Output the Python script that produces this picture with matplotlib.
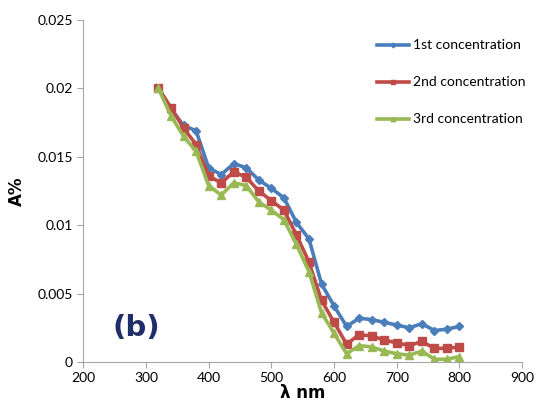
import matplotlib.pyplot as plt
import numpy as np

plt.rcParams["font.family"] = ["Lato", "DejaVu Sans"]

wavelength = [320, 340, 360, 380, 400, 420, 440, 460, 480, 500, 520, 540, 560,
              580, 600, 620, 640, 660, 680, 700, 720, 740, 760, 780, 800]
conc_1 = [0.0200, 0.0185, 0.0173, 0.0169, 0.0142, 0.0137, 0.0145, 0.0142, 0.0133,
          0.0127, 0.0120, 0.0102, 0.0090, 0.0057, 0.0041, 0.0026, 0.0032, 0.0031,
          0.0029, 0.0027, 0.0025, 0.0028, 0.0023, 0.0024, 0.0026]
conc_2 = [0.0200, 0.0186, 0.0171, 0.0159, 0.0136, 0.0131, 0.0139, 0.0135, 0.0125,
          0.0118, 0.0111, 0.0093, 0.0073, 0.0045, 0.0029, 0.0013, 0.0020, 0.0019,
          0.0016, 0.0014, 0.0012, 0.0015, 0.0010, 0.0010, 0.0011]
conc_3 = [0.0200, 0.0180, 0.0165, 0.0154, 0.0129, 0.0122, 0.0131, 0.0129, 0.0117,
          0.0111, 0.0104, 0.0086, 0.0066, 0.0036, 0.0021, 0.0006, 0.0012, 0.0011,
          0.0008, 0.0006, 0.0005, 0.0008, 0.0002, 0.0002, 0.0004]
labels = ["1st concentration", "2nd concentration", "3rd concentration"]
colors = ["#4a7ebb", "#be4b48", "#98b954"]
markers = ["D", "s", "^"]
msizes = [4, 5.5, 5.5]

fig = plt.figure(figsize=(5.42, 4.13), dpi=100)
ax = fig.add_axes([0.1535, 0.1235, 0.81, 0.828])

for ys, lab, c, m, ms in zip([conc_1, conc_2, conc_3], labels, colors, markers, msizes):
    ax.plot(wavelength, ys, color=c, marker=m, markersize=ms, linewidth=2.6, label=lab)

ax.set_xlim(200, 900)
ax.set_ylim(0, 0.025)
ax.set_xticks(np.arange(200, 901, 100))
ax.set_yticks([0, 0.005, 0.01, 0.015, 0.02, 0.025])
ax.set_yticklabels(["0", "0.005", "0.01", "0.015", "0.02", "0.025"])
ax.tick_params(labelsize=10, color="#a6a6a6", length=4, direction="out")
for side in ["top", "right"]:
    ax.spines[side].set_visible(False)
for side in ["left", "bottom"]:
    ax.spines[side].set_color("#a6a6a6")

ax.set_xlabel("λ nm", fontsize=12, fontweight="bold", family=["DejaVu Sans"], labelpad=0)
ax.set_ylabel("A%", fontsize=12, fontweight="bold", family=["DejaVu Sans"], labelpad=8)

ax.text(0.12, 0.10, "(b)", transform=ax.transAxes, fontsize=21, fontweight="bold",
        color="#1f2d6b", family=["DejaVu Sans"], ha="center", va="center")

ax.legend(loc="upper left", bbox_to_anchor=(0.64, 0.98), frameon=False, fontsize=10,
          labelspacing=1.8, handlelength=2.3, handletextpad=0.3, markerscale=0.6)

fig.savefig("out.png", dpi=100)
